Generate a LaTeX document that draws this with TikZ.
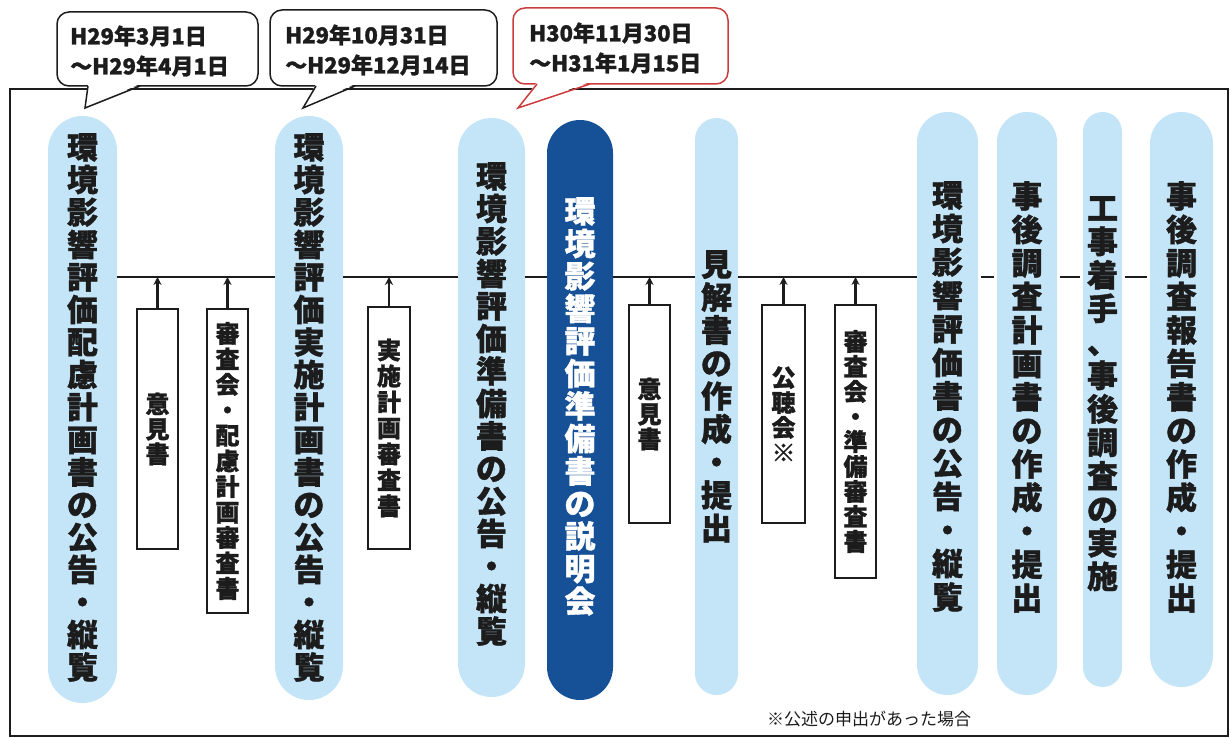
\documentclass[tikz,border=0pt]{standalone}
\usepackage{fontspec}
\setmainfont{Noto Sans CJK JP}[BoldFeatures={FakeBold=1.2}]
\usetikzlibrary{arrows.meta}
\definecolor{lightpill}{RGB}{196,229,248}
\definecolor{darkpill}{RGB}{22,80,150}
\definecolor{inkc}{RGB}{28,28,28}
\definecolor{calloutred}{RGB}{205,60,60}
\tikzset{
  frame/.style={draw=inkc, line width=2.8pt},
  cbox/.style={draw=inkc, fill=white, line width=1.5pt, rounded corners=12pt},
  ctail/.style={draw=inkc, line width=1.5pt},
  ctxt/.style={anchor=west, align=left, inner sep=0pt, text=inkc, font=\bfseries\fontsize{22}{30}\selectfont},
  lpill/.style={fill=lightpill, draw=none, inner sep=0pt, rounded corners=#1},
  dpill/.style={fill=darkpill, draw=none, inner sep=0pt, rounded corners=#1},
  ptxt/.style={anchor=north, align=center, inner sep=0pt, text=inkc, font=\bfseries\fontsize{31}{#1}\selectfont},
  sbox/.style={draw=inkc, fill=white, line width=1.6pt, inner sep=0pt, align=center, text=inkc, font=\bfseries\fontsize{24}{#1}\selectfont},
  tline/.style={draw=inkc, line width=2.8pt},
  uparrow/.style={draw=inkc, line width=2.8pt, -{Stealth[length=8pt,width=8pt]}},
  notetxt/.style={anchor=west, inner sep=0pt, text=inkc, font=\fontsize{17}{20}\selectfont}
}
\begin{document}
\begin{tikzpicture}[x=1pt,y=-1pt]
\useasboundingbox (0,0) rectangle (1231,738);
% frame
\draw[frame] (10,89) rectangle (1228,736);
% callouts
\draw[cbox] (57,12) rectangle (258,86);
\fill[white] (88,84) -- (85,108) -- (140,84) -- cycle;
\draw[ctail] (88,86) -- (85,108) -- (140,86);
\node[ctxt] (c1) at (70,51) {H29年3月1日\\～H29年4月1日};
\draw[cbox] (270,10) rectangle (497,86);
\fill[white] (316,84) -- (303,108) -- (355,84) -- cycle;
\draw[ctail] (316,86) -- (303,108) -- (355,86);
\node[ctxt] (c2) at (285,50) {H29年10月31日\\～H29年12月14日};
\draw[cbox, draw=calloutred] (513,8) rectangle (728,84);
\fill[white] (537,82) -- (518,108) -- (590,82) -- cycle;
\draw[ctail, draw=calloutred] (537,84) -- (518,108) -- (590,84);
\node[ctxt] (c3) at (529,48) {H30年11月30日\\～H31年1月15日};
% timeline coordinate
\coordinate (tl) at (0,277);
% pills
\node[lpill=34.5, minimum width=69, minimum height=587] (p1) at (82.5,409.5) {};
\node[lpill=34, minimum width=68, minimum height=584] (p2) at (309,408) {};
\node[lpill=33.5, minimum width=67, minimum height=579] (p3) at (491.5,407.5) {};
\node[dpill=33, minimum width=66, minimum height=580] (p4) at (580,410) {};
\node[lpill=21.5, minimum width=43, minimum height=577] (p5) at (716.5,406.5) {};
\node[lpill=30.5, minimum width=61, minimum height=583] (p6) at (947.5,403.5) {};
\node[lpill=30, minimum width=60, minimum height=583] (p7) at (1027,403.5) {};
\node[lpill=19.5, minimum width=39, minimum height=575] (p8) at (1102.5,399.5) {};
\node[lpill=31.5, minimum width=63, minimum height=575] (p9) at (1181.5,399.5) {};
% timeline segments between pills
\draw[tline] (p1.east |- tl) -- (p2.west |- tl);
\draw[tline] (p2.east |- tl) -- (p3.west |- tl);
\draw[tline] (p3.east |- tl) -- (p4.west |- tl);
\draw[tline] (p4.east |- tl) -- (p5.west |- tl);
\draw[tline] (p5.east |- tl) -- (p6.west |- tl);
\draw[tline] ([xshift=3pt]p6.east |- tl) -- ([xshift=-3pt]p7.west |- tl);
\draw[tline] ([xshift=3pt]p7.east |- tl) -- ([xshift=-3pt]p8.west |- tl);
\draw[tline] ([xshift=3pt]p8.east |- tl) -- ([xshift=-3pt]p9.west |- tl);
% pill texts
\node[ptxt=32.5] (t1) at (82.5,133) {環\\境\\影\\響\\評\\価\\配\\慮\\計\\画\\書\\の\\公\\告\\・\\縦\\覧};
\node[ptxt=32.5] (t2) at (309,133) {環\\境\\影\\響\\評\\価\\実\\施\\計\\画\\書\\の\\公\\告\\・\\縦\\覧};
\node[ptxt=32.5] (t3) at (491.5,162) {環\\境\\影\\響\\評\\価\\準\\備\\書\\の\\公\\告\\・\\縦\\覧};
\node[ptxt=32.5, text=white] (t4) at (580,197) {環\\境\\影\\響\\評\\価\\準\\備\\書\\の\\説\\明\\会};
\node[ptxt=33] (t5) at (716.5,250) {見\\解\\書\\の\\作\\成\\・\\提\\出};
\node[ptxt=33.5] (t6) at (947.5,181) {環\\境\\影\\響\\評\\価\\書\\の\\公\\告\\・\\縦\\覧};
\node[ptxt=33.5] (t7) at (1027,181) {事\\後\\調\\査\\計\\画\\書\\の\\作\\成\\・\\提\\出};
\node[ptxt=33.5] (t8) at (1102.5,196) {工\\事\\着\\手\\、\\事\\後\\調\\査\\の\\実\\施};
\node[ptxt=33.5] (t9) at (1181.5,181) {事\\後\\調\\査\\報\\告\\書\\の\\作\\成\\・\\提\\出};
% small boxes
\node[sbox=25, minimum width=41, minimum height=240] (a) at (157.5,429) {意\\見\\書};
\node[sbox=25.5, minimum width=41, minimum height=304] (b) at (227.5,461) {審\\査\\会\\・\\配\\慮\\計\\画\\審\\査\\書};
\node[sbox=26, minimum width=42, minimum height=242] (c) at (389,428) {実\\施\\計\\画\\審\\査\\書};
\node[sbox=25, minimum width=41, minimum height=218] (d) at (649.5,414) {意\\見\\書};
\node[sbox=25, minimum width=43, minimum height=218] (e) at (783.5,414) {公\\聴\\会\\※};
\node[sbox=25, minimum width=41, minimum height=273] (f) at (855.5,441.5) {審\\査\\会\\・\\準\\備\\審\\査\\書};
% arrows
\foreach \n in {a,b,c,d,e,f}{
  \draw[uparrow] (\n.north) -- (\n.north |- tl);
}
% note
\node[notetxt] (note) at (767,719) {※公述の申出があった場合};
\end{tikzpicture}
\end{document}
